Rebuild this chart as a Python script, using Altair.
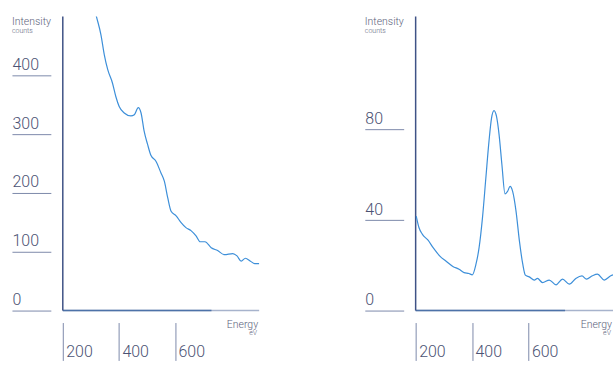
import altair as alt
import pandas as pd

# Left spectrum
left_energy = [290, 320, 336, 348, 360, 377, 389, 401, 419, 443, 455, 469, 479, 490, 502, 514, 532, 550,
               562, 574, 586, 604, 621, 639, 657, 675, 690, 707, 729, 752, 776, 806, 821, 836, 851, 869,
               884, 901]
left_intensity = [560, 500, 469, 435, 410, 387, 364, 347, 336, 331, 333, 345, 336, 305, 283, 264, 254, 234,
                  220, 192, 169, 161, 150, 141, 136, 127, 117, 117, 107, 102, 95, 97, 93, 84, 89, 84,
                  80, 80]
left_yticks = [0, 100, 200, 300, 400]
left_ymax = 500

# Right spectrum
right_energy = [202, 212, 224, 244, 262, 285, 309, 332, 354, 372, 389, 401, 414, 425, 437, 449, 460, 469,
                478, 487, 496, 506, 517, 526, 535, 544, 556, 568, 580, 589, 603, 621, 632, 650, 674, 698,
                721, 745, 768, 790, 806, 827, 845, 869, 892, 900]
right_intensity = [41.8, 36.6, 33.7, 31.1, 27.8, 24.2, 21.7, 19.5, 18.3, 16.8, 16.4, 15.8, 20.5, 27.8, 41,
                   58.6, 74.7, 85, 88.4, 85.7, 77.7, 64.5, 51.6, 52.7, 54.9, 52.7, 44, 30.8, 20.5, 15.7,
                   14.9, 13.5, 14.2, 12.4, 13.5, 11.4, 13.9, 11.7, 14.2, 15.3, 13.9, 15.4, 16.1, 13.5,
                   15.4, 15.8]
right_yticks = [0, 40, 80]
right_ymax = 130

x_ticks = [200, 400, 600]
x_min, x_max, x_dark_end = 200, 900, 730

y_title, y_unit = "Intensity", "counts"
x_title, x_unit = "Energy", "eV"

LINE = "#3d8fd9"
AXIS = "#3f5286"
BASE_LIGHT = "#a7b3cc"
BASE_DARK = "#4d72a8"
TICK = "#7d8aab"
TEXT = "#4b5273"
SMALL_TEXT = "#5d647c"
FONT = "Roboto"

one = pd.DataFrame({"k": [0]})


def panel(energy, intensity, ymax, yticks, width):
    df = pd.DataFrame({"Energy": energy, "Intensity": intensity})
    xs = alt.Scale(domain=[x_min, x_max], nice=False, zero=False)
    ys = alt.Scale(domain=[0, ymax], nice=False)
    xax = alt.Axis(values=x_ticks, orient="bottom", offset=12, tickSize=38, domain=False, grid=False,
                   title=None, labelAlign="left", labelBaseline="bottom", labelPadding=-1,
                   labelOffset=3, labelFontSize=16, labelFont=FONT, labelFontWeight=300,
                   labelColor=TEXT, tickColor=TICK, tickWidth=1, labelFlush=False,
                   labelOverlap=False)
    yax = alt.Axis(values=yticks, orient="left", offset=12, tickSize=39, domain=False, grid=False,
                   title=None, labelAlign="left", labelBaseline="bottom", labelPadding=0,
                   labelOffset=-3, labelFontSize=16, labelFont=FONT, labelFontWeight=300,
                   labelColor=TEXT, tickColor=TICK, tickWidth=1, labelFlush=False,
                   labelOverlap=False)
    line = alt.Chart(df).mark_line(color=LINE, strokeWidth=1.2, clip=True, interpolate="monotone").encode(
        x=alt.X("Energy:Q", scale=xs, axis=xax),
        y=alt.Y("Intensity:Q", scale=ys, axis=yax),
    )
    base = alt.Chart(one).mark_rule(color=BASE_LIGHT, strokeWidth=1.5).encode(
        x=alt.datum(x_min), x2=alt.datum(x_max), y=alt.datum(0))
    base_dark = alt.Chart(one).mark_rule(color=BASE_DARK, strokeWidth=1.5).encode(
        x=alt.datum(x_min), x2=alt.datum(x_dark_end), y=alt.datum(0))
    yline = alt.Chart(one).mark_rule(color=AXIS, strokeWidth=1.5).encode(
        x=alt.datum(x_min), y=alt.datum(0), y2=alt.datum(ymax))
    t1 = alt.Chart(one).mark_text(text=y_title, align="left", baseline="top", fontSize=10.5,
                                  font=FONT, fontWeight=300, color=SMALL_TEXT).encode(
        x=alt.value(-51), y=alt.value(0))
    t2 = alt.Chart(one).mark_text(text=y_unit, align="left", baseline="top", fontSize=7,
                                  font=FONT, fontWeight=300, color=SMALL_TEXT).encode(
        x=alt.value(-51), y=alt.value(11))
    t3 = alt.Chart(one).mark_text(text=x_title, align="right", baseline="top", fontSize=10.5,
                                  font=FONT, fontWeight=300, color=SMALL_TEXT).encode(
        x=alt.value(width - 1), y=alt.value(304))
    t4 = alt.Chart(one).mark_text(text=x_unit, align="right", baseline="top", fontSize=7,
                                  font=FONT, fontWeight=300, color=SMALL_TEXT).encode(
        x=alt.value(width - 2), y=alt.value(314))
    return alt.layer(base, base_dark, yline, line, t1, t2, t3, t4).properties(width=width, height=295)


left = panel(left_energy, left_intensity, left_ymax, left_yticks, 197)
right = panel(right_energy, right_intensity, right_ymax, right_yticks, 198)

chart = alt.hconcat(left, right, spacing=157, bounds="flush").properties(
    padding={"left": 11, "top": 15, "right": 0, "bottom": 0},
    background="white",
).configure_view(stroke=None)

chart.save("out.html", embed_options={"renderer": "svg", "actions": False})
